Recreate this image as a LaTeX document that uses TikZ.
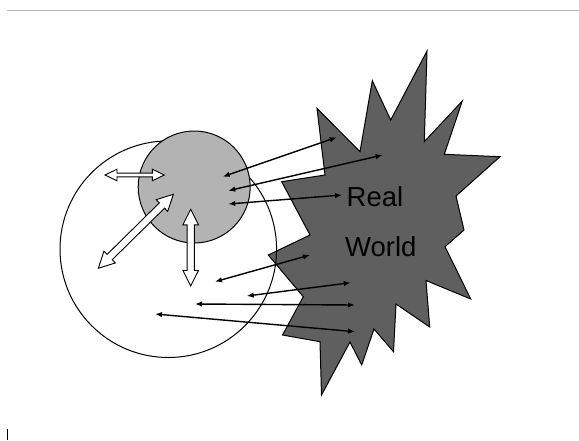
\documentclass[tikz,border=0pt]{standalone}
\usepackage{fontspec}
\setmainfont{Liberation Sans}
\usetikzlibrary{arrows.meta}
\definecolor{stargray}{HTML}{5F5F5F}
\definecolor{ballgray}{HTML}{B3B3B3}
\definecolor{rulegray}{HTML}{B4B4B4}
\tikzset{
  outline/.style={draw=black, line width=1pt},
  blk/.style={draw=black, fill=white, line width=0.9pt, line join=miter},
  link/.style={draw=black, line width=1.4pt, {Latex[length=7pt,width=5.5pt]}-{Latex[length=7pt,width=5.5pt]}},
  label/.style={font=\fontsize{27.5}{33}\selectfont, inner sep=0pt, anchor=base west}
}
\newcommand\blkarrow[6]{%
  \begin{scope}[shift={#1},rotate=#2]
    \draw[blk] (0,0) -- (#4,#5) -- (#4,#6) -- ({#3-#4},#6) -- ({#3-#4},#5) -- (#3,0)
      -- ({#3-#4},-#5) -- ({#3-#4},-#6) -- (#4,-#6) -- (#4,-#5) -- cycle;
  \end{scope}}
\begin{document}
\begin{tikzpicture}[x=1pt,y=-1pt]
\useasboundingbox (0,0) rectangle (579,440);
% top rule and small tick
\draw[rulegray, line width=1pt] (7,10.3) -- (579,10.3);
\draw[black, line width=0.8pt] (7.5,429) -- (7.5,439.5);
% real world star
\draw[outline, fill=stargray, line join=miter]
  (427,51) -- (424.3,141.7) -- (462.3,101) -- (444.3,154.3) -- (500,156.7)
  -- (456,196) -- (464,230) -- (445,246.7) -- (470.7,299) -- (426,280.5)
  -- (429.7,327) -- (396,304) -- (393.5,351.7) -- (374,329) -- (361.7,365)
  -- (350,342) -- (321.5,395) -- (320,341.7) -- (282.5,335) -- (303.3,296.7)
  -- (268.3,255) -- (310,235) -- (281.7,181.7) -- (325,175) -- (317,108.3)
  -- (360,151.7) -- (372.3,80.7) -- (390.7,120) -- cycle;
% big circle (outline only)
\draw[outline] (168.3,249.2) circle[radius=108.3];
% small gray circle
\draw[outline, fill=ballgray] (194.2,187) circle[radius=56];
% block double arrows
\blkarrow{(105,175)}{0}{59.3}{12}{5.8}{1.9}
\blkarrow{(190.7,209.3)}{-90}{76.7}{15.5}{7.8}{3.6}
\blkarrow{(98.3,268.3)}{44.6}{105.4}{16}{8.2}{3.7}
% text
\node[label] (real) at (346.5,206.7) {Real};
\node[label] (world) at (345,256) {World};
% arrow end points
\coordinate (a1) at (222.7,176.7); \coordinate (b1) at (336.7,137.3);
\coordinate (a2) at (228.3,190.7); \coordinate (b2) at (382.7,155);
\coordinate (a3) at (228.3,204);   \coordinate (b3) at (342,195);
\coordinate (a4) at (215,281.7);   \coordinate (b4) at (310,255);
\coordinate (a5) at (246.7,296);   \coordinate (b5) at (350.7,282.7);
\coordinate (a6) at (195,304);     \coordinate (b6) at (355,305);
\coordinate (a7) at (155,314);     \coordinate (b7) at (355,331.7);
\foreach \i in {1,...,7}{\draw[link] (a\i) -- (b\i);}
\end{tikzpicture}
\end{document}
